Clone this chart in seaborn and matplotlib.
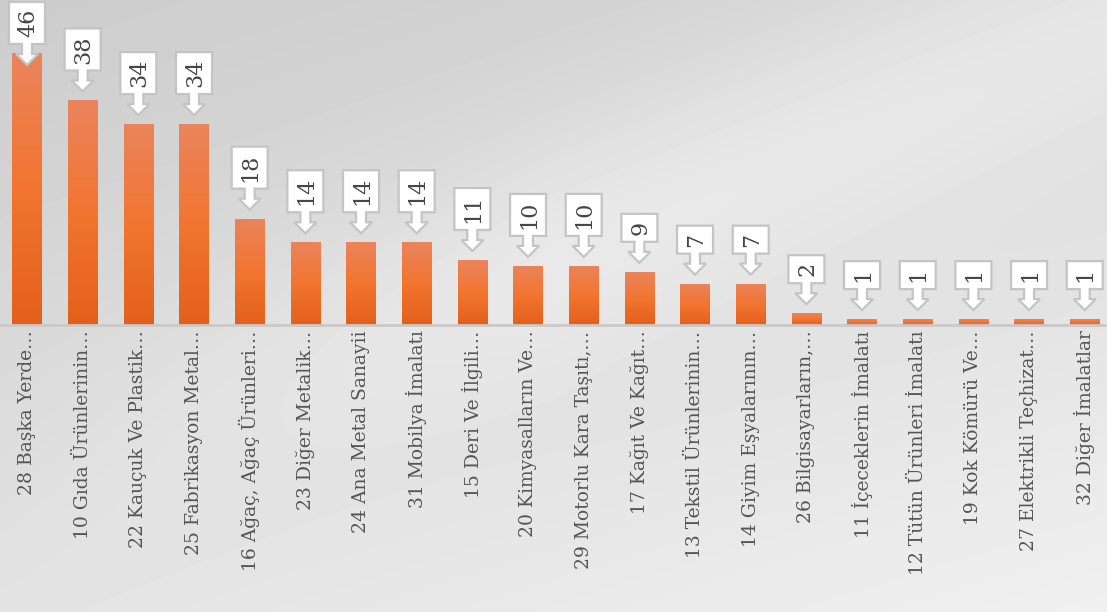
import numpy as np
import pandas as pd
import seaborn as sns
import matplotlib.pyplot as plt
from matplotlib.patches import Polygon
from matplotlib.transforms import IdentityTransform
from matplotlib.colors import LinearSegmentedColormap

# datos
sectores = [
    "28 Başka Yerde…", "10 Gıda Ürünlerinin…", "22 Kauçuk Ve Plastik…",
    "25 Fabrikasyon Metal…", "16 Ağaç, Ağaç Ürünleri…", "23 Diğer Metalik…",
    "24 Ana Metal Sanayii", "31 Mobilya İmalatı", "15 Deri Ve İlgili…",
    "20 Kimyasalların Ve…", "29 Motorlu Kara Taşıtı,…", "17 Kağıt Ve Kağıt…",
    "13 Tekstil Ürünlerinin…", "14 Giyim Eşyalarının…", "26 Bilgisayarların,…",
    "11 İçeceklerin İmalatı", "12 Tütün Ürünleri İmalatı", "19 Kok Kömürü Ve…",
    "27 Elektrikli Teçhizat…", "32 Diğer İmalatlar",
]
adet = [46, 38, 34, 34, 18, 14, 14, 14, 11, 10, 10, 9, 7, 7, 2, 1, 1, 1, 1, 1]

df = pd.DataFrame({"sektor": sectores, "adet": adet})

sns.set_theme(style="white")
plt.rcParams["font.family"] = ["DejaVu Serif"]

W, H = 1107, 612
fig = plt.figure(figsize=(W / 100, H / 100), dpi=100)

# fondo degradado gris
bg = fig.add_axes([0, 0, 1, 1], zorder=0)
yy, xx = np.mgrid[0:1:H * 1j, 0:1:W * 1j]
fondo = 0.80 + 0.09 * yy + 0.05 * xx
brillo = np.exp(-((yy - (0.78 - 0.75 * xx)) ** 2) / 0.04) * np.clip(xx * 2, 0, 1)
fondo = np.clip(fondo + 0.05 * brillo, 0, 0.94)
bg.imshow(fondo, cmap="gray", vmin=0, vmax=1, aspect="auto", extent=[0, 1, 0, 1], origin="upper")
bg.set_axis_off()

ax = fig.add_axes([0, 1 - 325 / H, 1, 325 / H], zorder=1)
ax.patch.set_alpha(0)
sns.barplot(data=df, x="sektor", y="adet", color="#f07530", width=0.53, ax=ax,
            saturation=1, linewidth=0)
ax.set_yticks([])
ax.set_xlabel("")
ax.set_ylabel("")
sns.despine(ax=ax, left=True, top=True, right=True)
ax.spines["bottom"].set_color("#c9c9c9")
ax.spines["bottom"].set_linewidth(2)
ax.tick_params(axis="x", length=0, pad=4)
plt.setp(ax.get_xticklabels(), rotation=90, fontsize=13.5, color="#555555", va="top", ha="center")

# degradado de las barras
naranja = LinearSegmentedColormap.from_list("nar", ["#e3601b", "#f27530", "#eb845c"])
grad = np.linspace(0, 1, 100).reshape(-1, 1)
for p in ax.patches:
    x0, y0 = p.get_x(), p.get_y()
    im = ax.imshow(grad, cmap=naranja, aspect="auto", origin="lower",
                   extent=[x0, x0 + p.get_width(), y0, y0 + p.get_height()], zorder=2)
    im.set_clip_path(p)
ax.set_xlim(-0.485, 19.4)
ax.set_ylim(0, 55)

# etiquetas tipo flecha
fig.canvas.draw()
for i, v in enumerate(adet):
    cx, py = ax.transData.transform((i, v))
    tip = py + 9
    neck = tip + 11
    bb = neck + 10
    alto = 14 + 14 * len(str(v))
    top = bb + alto
    if top > H - 2:
        d = top - (H - 2)
        tip, neck, bb, top = tip - d, neck - d, bb - d, top - d
    verts = [(cx - 18, top), (cx + 18, top), (cx + 18, bb), (cx + 5, bb), (cx + 5, neck),
             (cx + 11, neck), (cx, tip), (cx - 11, neck), (cx - 5, neck), (cx - 5, bb),
             (cx - 18, bb)]
    poly = Polygon(verts, closed=True, facecolor="white", edgecolor="#c4c4c4", lw=1.6,
                   transform=IdentityTransform(), clip_on=False, zorder=5)
    ax.add_patch(poly)
    ax.text(cx + 1, (top + bb) / 2, str(v), rotation=90, ha="center", va="center",
            fontsize=16, color="#454545", transform=IdentityTransform(), zorder=6)

fig.savefig("out.png", dpi=100)
